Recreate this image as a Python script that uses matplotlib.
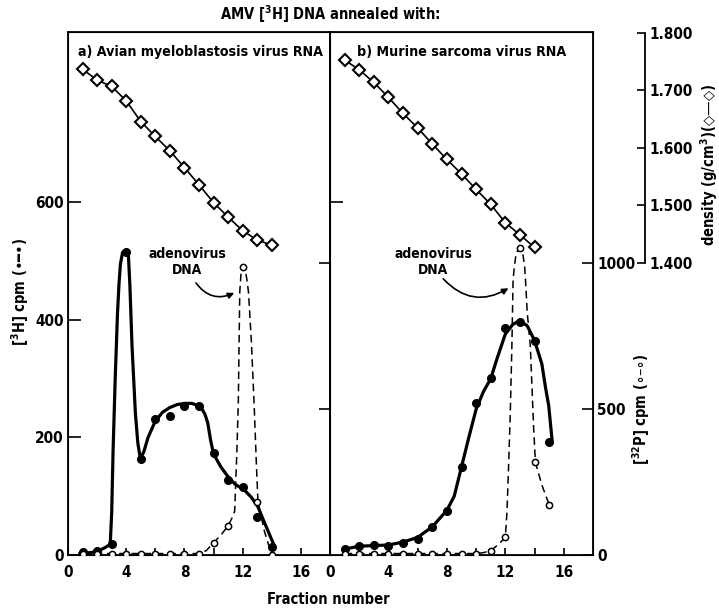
import matplotlib
matplotlib.use("Agg")
import matplotlib.pyplot as plt

plt.rcParams['font.family'] = ['DejaVu Sans']
plt.rcParams['font.stretch'] = 'condensed'
plt.rcParams['font.weight'] = 'bold'
plt.rcParams['mathtext.default'] = 'regular'

# fraction numbers
frac14 = list(range(1, 15))
frac15 = list(range(1, 16))

# a) Avian myeloblastosis virus RNA
dens_a = [1.737, 1.718, 1.707, 1.682, 1.646, 1.620, 1.595, 1.566, 1.536, 1.505, 1.480, 1.456, 1.440, 1.431]
h3_a = [5, 6, 18, 515, 164, 231, 236, 254, 254, 173, 128, 115, 64, 14]
p32_a = [5, 5, 5, 5, 5, 5, 5, 5, 5, 42, 99, 987, 183, 0]
# hand drawn curves
h3_a_cx = [0.8, 1.5, 2, 2.5, 2.9, 3.0, 3.1, 3.24, 3.4, 3.5, 3.6, 3.75, 4.0, 4.15, 4.25, 4.4, 4.63, 4.8, 4.97,
           5.2, 5.5, 6, 6.5, 7, 7.5, 8, 8.5, 9.1, 9.4, 9.6, 9.8, 10, 10.5, 11, 11.5, 12.1, 12.6, 13.05, 13.5, 14.2]
h3_a_cy = [3, 4, 6, 12, 18, 71, 180, 298, 411, 460, 495, 515, 519, 510, 460, 355, 241, 190, 164,
           175, 200, 228, 243, 251, 256, 258, 258, 253, 240, 225, 195, 172, 150, 133, 120, 111, 98, 82, 55, 14]
p32_a_cx = [1, 9, 9.5, 10, 10.5, 11, 11.25, 11.45, 11.6, 11.7, 11.8, 11.9, 12.05, 12.2, 12.3, 12.4, 12.6, 12.8,
            12.95, 13.05, 13.5, 14]
p32_a_cy = [5, 5, 15, 42, 68, 100, 125, 150, 350, 520, 900, 975, 990, 970, 940, 900, 730, 500,
            300, 183, 80, 0]

# b) Murine sarcoma virus RNA
dens_b = [1.753, 1.736, 1.714, 1.688, 1.660, 1.635, 1.607, 1.580, 1.555, 1.528, 1.502, 1.470, 1.449, 1.427]
h3_b = [10, 16, 17, 16, 21, 28, 47, 75, 149, 259, 301, 386, 396, 364, 193]
p32_b = [5, 5, 5, 5, 5, 5, 5, 5, 5, 5, 15, 60, 1050, 317, 172]
h3_b_cx = [1, 2, 3, 4, 5, 6, 7, 8, 8.5, 9, 9.5, 10, 10.5, 11, 11.43, 12, 12.5, 12.96, 13.5, 14, 14.5, 14.75,
           14.97, 15.2]
h3_b_cy = [10, 15, 16, 17, 22, 30, 48, 76, 100, 150, 200, 248, 278, 300, 334, 376, 392, 399, 390, 365, 325, 285,
           254, 195]
p32_b_cx = [1, 10, 10.5, 11, 11.5, 12, 12.11, 12.22, 12.34, 12.45, 12.53, 12.62, 12.75, 12.98, 13.2, 13.32, 13.38,
            13.5, 13.71, 13.94, 14.06, 14.5, 15]
p32_b_cy = [5, 5, 8, 15, 35, 60, 146, 300, 488, 720, 942, 990, 1035, 1052, 1030, 990, 942,
            830, 716, 431, 317, 240, 172]

H3_LIM = (0, 890)
P32_LIM = (0, 1791)
DENS_LIM = (0.8922, 1.8017)

W, H = 719, 611
fig = plt.figure(figsize=(W / 100, H / 100), dpi=100)
bot = 1 - 555 / H
hgt = (555 - 32) / H
FS = 11


def panel(left, width, dens, h3, p32, hcx, hcy, pcx, pcy, nh3, npt):
    ax = fig.add_axes([left / W, bot, width / W, hgt])
    ax.set_xlim(0, 18)
    ax.set_ylim(*H3_LIM)
    ax.set_xticks(range(0, 17, 2))
    ax.set_xticklabels([str(v) if v % 4 == 0 else '' for v in range(0, 17, 2)])
    ax.tick_params(axis='x', direction='in', length=5, width=1.2, labelsize=FS, pad=7)
    ax.tick_params(axis='y', direction='in', length=9, width=1.2, labelsize=FS, pad=3)
    for s in ax.spines.values():
        s.set_linewidth(1.3)

    ax.plot(hcx, hcy, color='black', lw=2.3, solid_capstyle='round', zorder=4)
    ax.plot(frac15[:nh3], h3, 'o', color='black', ms=5.5, zorder=5)

    axp = ax.twinx()
    axp.set_ylim(*P32_LIM)
    axp.plot(pcx, pcy, color='black', lw=1.1, dashes=(5, 3), zorder=3)
    axp.plot(frac15[:npt], p32, 'o', mfc='white', mec='black', mew=1.1, ms=4.5, zorder=4)
    axp.tick_params(axis='y', direction='in', length=8, width=1.2, labelsize=FS, pad=3)

    axd = ax.twinx()
    axd.set_ylim(*DENS_LIM)
    axd.plot(frac14, dens, '-', color='black', lw=1.2, marker='D', ms=6.5, mfc='white',
             mec='black', mew=1.5)
    axd.set_yticks([])
    for s in axd.spines.values():
        s.set_visible(False)
    return ax, axp


arrow = dict(arrowstyle='-|>', color='black', lw=1.2, shrinkA=0, shrinkB=0,
             connectionstyle='arc3,rad=0.4', mutation_scale=9)

ax_a, axp_a = panel(68, 262, dens_a, h3_a, p32_a, h3_a_cx, h3_a_cy, p32_a_cx, p32_a_cy, 14, 14)
ax_a.set_yticks([0, 200, 400, 600])
axp_a.set_yticks([500, 1000])
axp_a.set_yticklabels([])
ax_a.text(0.505, 0.975, 'a) Avian myeloblastosis virus RNA', transform=ax_a.transAxes,
          ha='center', va='top', fontsize=10.2)
ax_a.text(8.2, 499, 'adenovirus\nDNA', ha='center', va='center', fontsize=10, linespacing=1.2)
ax_a.annotate('', xy=(11.42, 446), xytext=(8.79, 463), arrowprops=arrow)

ax_b, axp_b = panel(330, 263, dens_b, h3_b, p32_b, h3_b_cx, h3_b_cy, p32_b_cx, p32_b_cy, 15, 15)
ax_b.set_yticks([600])
ax_b.set_yticklabels([])
axp_b.set_yticks([0, 500, 1000])
ax_b.text(0.5, 0.975, 'b) Murine sarcoma virus RNA', transform=ax_b.transAxes,
          ha='center', va='top', fontsize=10.2)
ax_b.text(7.06, 499, 'adenovirus\nDNA', ha='center', va='center', fontsize=10, linespacing=1.2)
ax_b.annotate('', xy=(12.21, 454), xytext=(7.75, 470), arrowprops=arrow)

# separate density scale
axd = fig.add_axes([600 / W, bot, 45 / W, hgt])
axd.set_ylim(*DENS_LIM)
axd.set_xticks([])
for k in ['left', 'top', 'bottom']:
    axd.spines[k].set_visible(False)
axd.spines['right'].set_bounds(1.4, 1.8)
axd.spines['right'].set_linewidth(1.3)
axd.patch.set_visible(False)
axd.yaxis.tick_right()
axd.set_yticks([1.4, 1.5, 1.6, 1.7, 1.8])
axd.set_yticklabels(['1.400', '1.500', '1.600', '1.700', '1.800'])
axd.tick_params(axis='y', direction='in', length=6, width=1.2, labelsize=FS, pad=3)

fig.text(330 / W, 1 - 14 / H, 'AMV [$^{3}$H] DNA annealed with:', ha='center', va='center', fontsize=10.5)
fig.text(328 / W, 1 - 600 / H, 'Fraction number', ha='center', va='center', fontsize=10.5)
fig.text(20 / W, 1 - 292 / H, '[$^{3}$H] cpm (•━•)', rotation=90, ha='center', va='center', fontsize=10.5)
fig.text(641 / W, 1 - 409 / H, '[$^{32}$P] cpm (∘–∘)', rotation=90, ha='center', va='center', fontsize=10.5)
fig.text(709 / W, 1 - 165 / H, 'density (g/cm$^{3}$)(◇—◇)', rotation=90, ha='center', va='center', fontsize=10.5)

fig.savefig('out.png', dpi=100)
